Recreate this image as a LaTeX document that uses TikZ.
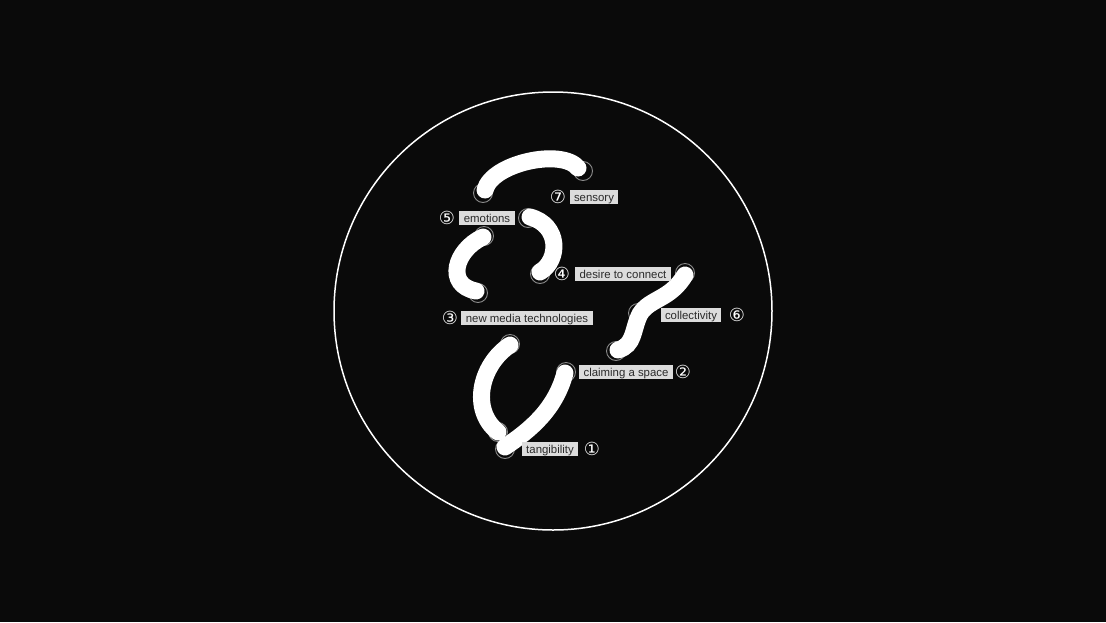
\documentclass[tikz,border=0pt]{standalone}
\usepackage{fontspec}
\setmainfont{Liberation Sans}
\newfontfamily\numfont{DejaVu Sans}
\definecolor{bg}{HTML}{0A0A0A}
\definecolor{lbl}{HTML}{DCDCDC}
\definecolor{ltxt}{HTML}{2A2A2A}
\definecolor{ring}{HTML}{8A8A8A}
\tikzset{
  stroke/.style={white, line width=17pt, line cap=round},
  endring/.style={draw=ring, line width=0.9pt, circle, minimum size=19pt, inner sep=0pt},
  lab/.style={fill=lbl, text=ltxt, font=\fontsize{11.4}{12}\selectfont, inner xsep=4.5pt, inner ysep=2.2pt, text height=9.2pt, text depth=0.4pt},
  num/.style={text=white, font=\numfont\fontsize{18}{18}\selectfont, inner sep=0pt}
}
\begin{document}
\begin{tikzpicture}[x=1pt,y=-1pt]
\fill[bg] (0,0) rectangle (1106,622);
\useasboundingbox (0,0) rectangle (1106,622);
\node[draw=white, line width=1.5pt, circle, minimum size=438pt, inner sep=0pt] (frame) at (553,311) {};
% endpoint rings
\node[endring] (s1) at (483,193) {};
\node[endring] (s2) at (583,171) {};
\node[endring] (e1) at (484,236) {};
\node[endring] (e2) at (478,293) {};
\node[endring] (d1) at (528,218) {};
\node[endring] (d2) at (540,274) {};
\node[endring] (c1) at (685,273) {};
\node[endring] (c2) at (638,313) {};
\node[endring] (c3) at (616,351) {};
\node[endring] (t1) at (510,344) {};
\node[endring] (t2) at (498,432) {};
\node[endring] (a1) at (566,372) {};
\node[endring] (a2) at (505,449) {};
% strokes
\draw[stroke] (s1.center) ++(2,-3) .. controls (492,163) and (562,148) .. (578,168);
\draw[stroke] (e1.center) ++(-1,1) .. controls (455,250) and (445,285) .. (476,291);
\draw[stroke] (d1.center) ++(2,-1) .. controls (560,225) and (560,260) .. (540,272);
\draw[stroke] (c1.center) ++(0,2) .. controls (670,300) and (650,298) .. (640,314) .. controls (632,330) and (635,345) .. (618,350);
\draw[stroke] (t1.center) ++(0,1) .. controls (480,365) and (470,410) .. (498,432);
\draw[stroke] (a1.center) ++(-1,1) .. controls (555,410) and (530,430) .. (505,447);
% labels
\node[lab] (sensory) at (594,197) {sensory};
\node[lab] (emotions) at (487,218) {emotions};
\node[lab] (desire) at (623,274) {desire to connect};
\node[lab] (media) at (527,318) {new media technologies};
\node[lab] (collect) at (691,315) {collectivity};
\node[lab] (claim) at (626,372) {claiming a space};
\node[lab] (tang) at (550,449) {tangibility};
% numbers
\node[num] (n7) at (558,197) {⑦};
\node[num] (n5) at (447,218) {⑤};
\node[num] (n4) at (562,274) {④};
\node[num] (n3) at (450,318) {③};
\node[num] (n6) at (737,315) {⑥};
\node[num] (n2) at (683,372) {②};
\node[num] (n1) at (592,449) {①};
\end{tikzpicture}
\end{document}
